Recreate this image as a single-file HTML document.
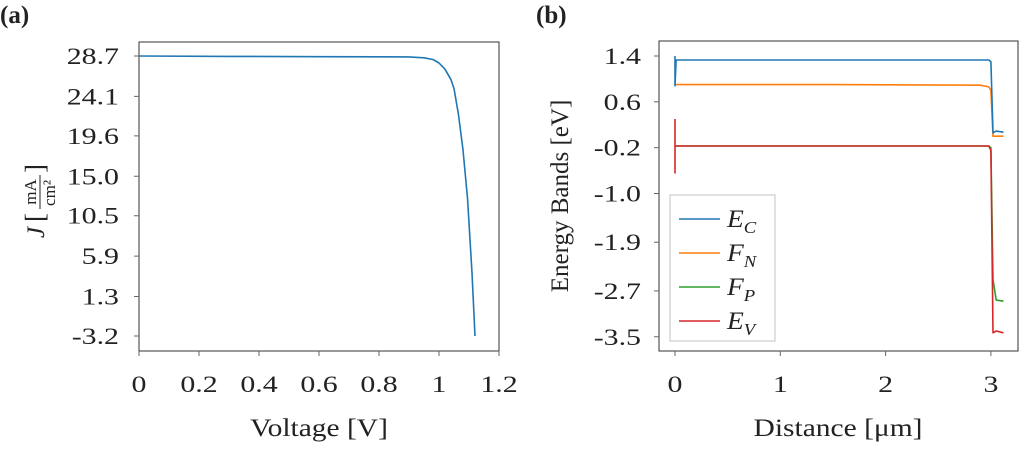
<!DOCTYPE html>
<html><head><meta charset="utf-8"><style>
body{margin:0;background:#fff;width:1024px;height:444px;overflow:hidden}
svg text{font-family:"Liberation Serif",serif;fill:#222}
</style></head><body>
<svg id="s" width="1024" height="444"></svg>
<script>
const jvV=[0,0.3,0.6,0.9,0.95,0.98,1.0,1.02,1.04,1.05,1.065,1.08,1.095,1.11,1.12];
const jvJ=[28.7,28.65,28.62,28.6,28.5,28.3,27.9,27.2,26.0,25.0,22.0,18.0,12.5,4.0,-3.2];
const jTicks=[28.7,24.1,19.6,15.0,10.5,5.9,1.3,-3.2];
const jTickLabels=["28.7","24.1","19.6","15.0","10.5","5.9","1.3","-3.2"];
const vTicks=[0,0.2,0.4,0.6,0.8,1,1.2];
const vTickLabels=["0","0.2","0.4","0.6","0.8","1","1.2"];
const eTicks=[1.4,0.6,-0.2,-1.0,-1.85,-2.7,-3.5];
const eTickLabels=["1.4","0.6","-0.2","-1.0","-1.9","-2.7","-3.5"];
const dTicks=[0,1,2,3];
const dX=[0,0,0.01,1.5,2.9,2.98,3.0,3.02,3.05,3.12];
const ecY=[1.4,0.88,1.33,1.33,1.33,1.33,1.3,0.06,0.09,0.07];
const fnY=[0.9,0.9,0.9,0.9,0.89,0.86,0.8,0.0,0.0,0.0];
const fpY=[-0.17,-0.17,-0.17,-0.17,-0.17,-0.17,-0.2,-2.5,-2.86,-2.88];
const evX=[0,0,0,0.01,1.5,2.98,3.0,3.02,3.05,3.12];
const evY=[0.3,-0.64,-0.17,-0.17,-0.17,-0.17,-0.25,-3.43,-3.4,-3.43];
const NS="http://www.w3.org/2000/svg",s=document.getElementById('s');
function el(t,a,txt){const e=document.createElementNS(NS,t);for(const k in a)e.setAttribute(k,a[k]);if(txt!=null)e.textContent=txt;s.appendChild(e);return e;}
function tx(x,y,size,anchor,str,sx){return el('text',{x:0,y:0,'font-size':size,'text-anchor':anchor,transform:'translate('+x+','+y+') scale('+sx+',1)'},str);}
const lx=v=>139+v*300, ly=j=>56+(28.7-j)*280/31.9;
const rx=d=>675+d*105.3, ry=e=>56+(1.4-e)*57.3;
let f=el('rect',{x:139,y:42,width:360,height:309,fill:'none',stroke:'#333','stroke-width':1});

f=el('rect',{x:659,y:41,width:359,height:310,fill:'none',stroke:'#333','stroke-width':1});

jTicks.forEach((t,i)=>{const y=ly(t);el('line',{x1:134,x2:139,y1:y,y2:y,stroke:'#666'});
 const e=tx(119,y+8,23,'end',jTickLabels[i],1.3);
 });
vTicks.forEach((t,i)=>{const x=lx(t);el('line',{x1:x,x2:x,y1:351,y2:356,stroke:'#666'});
 const e=tx(x,392,23,'middle',vTickLabels[i],1.3);
 });
eTicks.forEach((t,i)=>{const y=ry(t);el('line',{x1:654,x2:659,y1:y,y2:y,stroke:'#666'});
 const e=tx(641,y+8,23,'end',eTickLabels[i],1.3);
 });
dTicks.forEach(t=>{const x=rx(t);el('line',{x1:x,x2:x,y1:351,y2:356,stroke:'#666'});
 const e=tx(x,392,23,'middle',String(t),1.3);
 });
function line(xs,ys,fx,fy,c,n){const d=xs.map((x,i)=>(i?'L':'M')+fx(x).toFixed(1)+','+fy(ys[i]).toFixed(1)).join('');
 const p=el('path',{d:d,fill:'none',stroke:c,'stroke-width':1.6,'stroke-linejoin':'round'});
 }
line(jvV,jvJ,lx,ly,'#1f77b4','jv-curve');
line(dX,fnY,rx,ry,'#ff7f0e','fn-line');
line(dX,ecY,rx,ry,'#1f77b4','ec-line');
line(dX,fpY,rx,ry,'#2ca02c','fp-line');
line(evX,evY,rx,ry,'#d62728','ev-line');
let t;
t=el('text',{x:0,y:23,'font-size':25,'font-weight':'bold'},'(a)');
t=el('text',{x:536,y:23,'font-size':25,'font-weight':'bold'},'(b)');
t=tx(319,436,25,'middle','Voltage [V]',1.18);
t=tx(838,436,25,'middle','Distance [μm]',1.18);
t=el('text',{x:0,y:0,'font-size':25,'text-anchor':'middle',transform:'translate(568,196) rotate(-90)'},'Energy Bands [eV]');
const g=el('g',{transform:'translate(44,196) rotate(-90)'});
g.innerHTML='<text x="-42" y="0" font-size="25" font-style="italic">J</text><text x="-26" y="0" font-size="27">[</text><text x="4" y="-8" font-size="17" text-anchor="middle">mA</text><line x1="-13" x2="21" y1="-4" y2="-4" stroke="#222" stroke-width="1"/><text x="3" y="11" font-size="17" text-anchor="middle">cm²</text><text x="23" y="0" font-size="27">]</text>';
f=el('rect',{x:670,y:195,width:105,height:146,fill:'#fff',stroke:'#ccc','stroke-width':1.2});

const lg=[['#1f77b4','E','C'],['#ff7f0e','F','N'],['#2ca02c','F','P'],['#d62728','E','V']];
lg.forEach((L,i)=>{const y=219+i*34;el('line',{x1:679,x2:720,y1:y,y2:y,stroke:L[0],'stroke-width':1.6});
 const e=el('text',{x:0,y:0,'font-size':25,'font-style':'italic',transform:'translate(727,'+(y+8)+') scale(1.1,1)'});
 
 e.innerHTML=L[1]+'<tspan font-size="17" dy="6">'+L[2]+'</tspan>';});
</script>
</body></html>
